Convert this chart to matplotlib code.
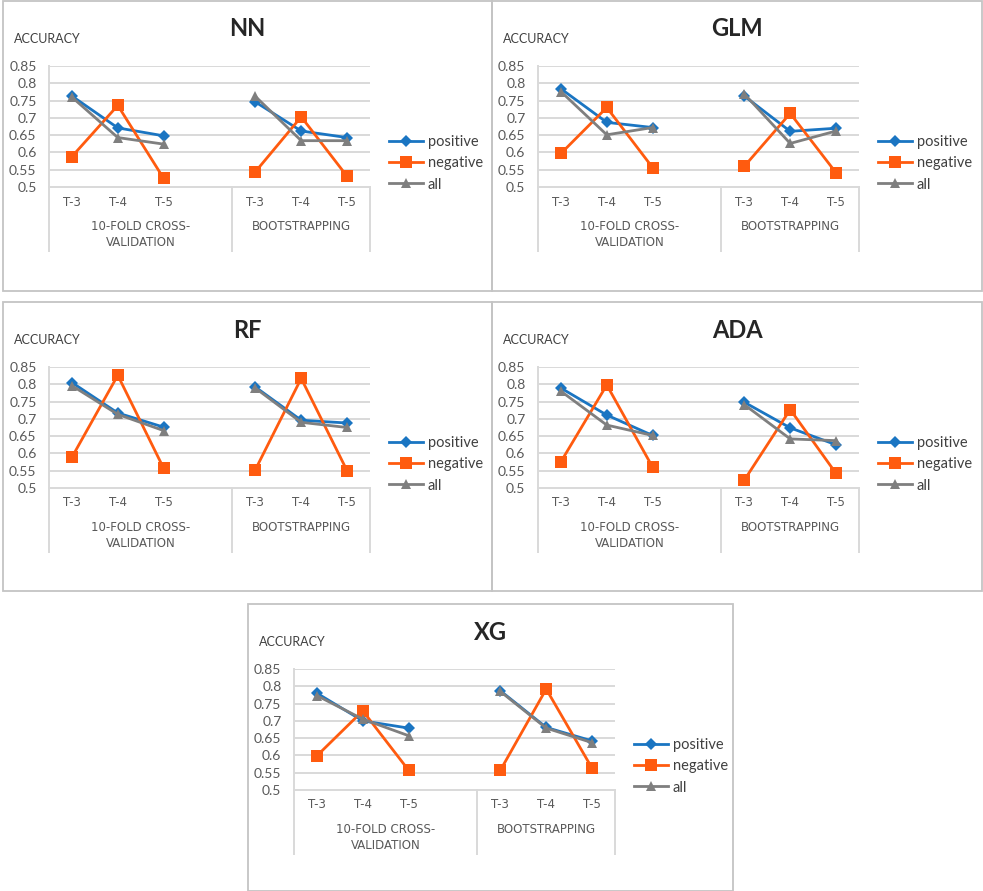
import matplotlib
matplotlib.use("Agg")
import matplotlib.pyplot as plt
from matplotlib.patches import Rectangle
from matplotlib.lines import Line2D

plt.rcParams['font.family'] = ['Lato', 'DejaVu Sans']

# ---- data -------------------------------------------------------------
models = ["NN", "GLM", "RF", "ADA", "XG"]
series_names = ["positive", "negative", "all"]
horizons = ["T-3", "T-4", "T-5"]
groups = ["10-FOLD CROSS-\nVALIDATION", "BOOTSTRAPPING"]
y_ticks = [0.5, 0.55, 0.6, 0.65, 0.7, 0.75, 0.8, 0.85]
y_tick_labels = ["0.5", "0.55", "0.6", "0.65", "0.7", "0.75", "0.8", "0.85"]

# each list: CV T-3, T-4, T-5, then bootstrapping T-3, T-4, T-5
nn_positive = [0.763, 0.671, 0.648, 0.746, 0.662, 0.643]
nn_negative = [0.588, 0.736, 0.525, 0.544, 0.703, 0.531]
nn_all = [0.760, 0.643, 0.624, 0.762, 0.634, 0.634]

glm_positive = [0.784, 0.687, 0.672, 0.763, 0.661, 0.670]
glm_negative = [0.597, 0.730, 0.556, 0.560, 0.713, 0.541]
glm_all = [0.776, 0.651, 0.672, 0.769, 0.626, 0.662]

rf_positive = [0.805, 0.717, 0.676, 0.792, 0.696, 0.688]
rf_negative = [0.589, 0.826, 0.557, 0.553, 0.817, 0.550]
rf_all = [0.796, 0.713, 0.666, 0.789, 0.690, 0.675]

ada_positive = [0.789, 0.711, 0.652, 0.748, 0.674, 0.625]
ada_negative = [0.576, 0.798, 0.560, 0.523, 0.727, 0.542]
ada_all = [0.780, 0.682, 0.652, 0.741, 0.642, 0.637]

xg_positive = [0.780, 0.700, 0.679, 0.787, 0.681, 0.642]
xg_negative = [0.599, 0.729, 0.557, 0.557, 0.792, 0.563]
xg_all = [0.773, 0.705, 0.657, 0.785, 0.679, 0.637]

model_data = {
    "NN": [nn_positive, nn_negative, nn_all],
    "GLM": [glm_positive, glm_negative, glm_all],
    "RF": [rf_positive, rf_negative, rf_all],
    "ADA": [ada_positive, ada_negative, ada_all],
    "XG": [xg_positive, xg_negative, xg_all],
}

# ---- styling ----------------------------------------------------------
colors = ["#1a75c2", "#ff5b0f", "#7f7f7f"]
markers = ["D", "s", "^"]
marker_sizes = [6, 8.5, 7.5]
grid_color = "#d9d9d9"
text_dark = "#404040"
text_mid = "#595959"

W, H = 983, 891
fig = plt.figure(figsize=(W / 100, H / 100), dpi=100)
fig.patch.set_facecolor("white")

# panel frames: (left, top, width, height) in pixels
panels = {
    "NN": (3, 1, 489, 290),
    "GLM": (492, 1, 490, 290),
    "RF": (3, 302, 489, 289),
    "ADA": (492, 302, 490, 289),
    "XG": (248, 604, 485, 287),
}

# category slots: three horizons, an empty slot, three horizons
slot_x = [0, 1, 2, 4, 5, 6]
group_edges = [-0.5, 3.5, 6.5]


def fx(px):
    return px / W


def fy(py):
    return 1 - py / H


for name in models:
    ox, oy, pw, ph = panels[name]
    fig.patches.append(Rectangle((fx(ox), fy(oy + ph)), pw / W, ph / H,
                                 transform=fig.transFigure, fill=False,
                                 edgecolor="#c4c4c4", linewidth=1.3))

    ax_l, ax_t, ax_w, ax_h = ox + 46, oy + 65, 321, 121
    ax = fig.add_axes([fx(ax_l), fy(ax_t + ax_h), ax_w / W, ax_h / H])
    ax.set_xlim(-0.5, 6.5)
    ax.set_ylim(0.5, 0.85)
    ax.set_yticks(y_ticks)
    ax.set_yticklabels(y_tick_labels, fontsize=10, color=text_mid)
    ax.tick_params(axis="y", length=0, pad=9)
    ax.set_xticks([])
    for s in ["top", "right"]:
        ax.spines[s].set_visible(False)
    ax.spines["left"].set_color(grid_color)
    ax.spines["left"].set_linewidth(1.4)
    ax.spines["bottom"].set_color(grid_color)
    ax.spines["bottom"].set_linewidth(1.4)
    for yv in y_ticks[1:]:
        ax.axhline(yv, color=grid_color, linewidth=1.4, zorder=0)

    # series, drawn per group so lines break between the groups
    for i, values in enumerate(model_data[name]):
        for g in range(2):
            xs = slot_x[3 * g:3 * g + 3]
            ys = values[3 * g:3 * g + 3]
            ax.plot(xs, ys, color=colors[i], linewidth=2.0, marker=markers[i],
                    markersize=marker_sizes[i], markeredgewidth=0,
                    zorder=3 + i, clip_on=False)

    # category axis below the plot
    px_to_ax = 1.0 / ax_h
    for e in group_edges:
        ax.plot([e, e], [0, -64 * px_to_ax], color=grid_color, linewidth=1.4,
                transform=ax.get_xaxis_transform(), clip_on=False)
    for k, xv in enumerate(slot_x):
        ax.text(xv, -15 * px_to_ax, horizons[k % 3], transform=ax.get_xaxis_transform(),
                ha="center", va="center", fontsize=8.5, color=text_mid,
                family="DejaVu Sans")
    group_centers = [(group_edges[0] + group_edges[1]) / 2,
                     (group_edges[1] + group_edges[2]) / 2]
    for g, gc in enumerate(group_centers):
        ax.text(gc, -33 * px_to_ax, groups[g], transform=ax.get_xaxis_transform(),
                ha="center", va="top", fontsize=8.5, color=text_mid,
                family="DejaVu Sans", linespacing=1.3)

    # titles
    fig.text(fx(ox + pw / 2), fy(oy + 28), name, ha="center", va="center",
             fontsize=17, fontweight="bold", color="#262626")
    fig.text(fx(ox + 11), fy(oy + 38), "ACCURACY", ha="left", va="center",
             fontsize=9, color=text_dark)

    # legend
    handles = [Line2D([], [], color=colors[i], linewidth=2.0, marker=markers[i],
                      markersize=marker_sizes[i], markeredgewidth=0)
               for i in range(3)]
    ax.legend(handles, series_names, loc="upper left",
              bbox_to_anchor=(fx(ox + 386), fy(oy + 134)),
              bbox_transform=fig.transFigure, frameon=False, fontsize=10.5,
              handlelength=2.3, handletextpad=0.35, labelspacing=0.5,
              borderaxespad=0, borderpad=0, labelcolor=text_dark)

fig.savefig("out.png", dpi=100, facecolor="white")
